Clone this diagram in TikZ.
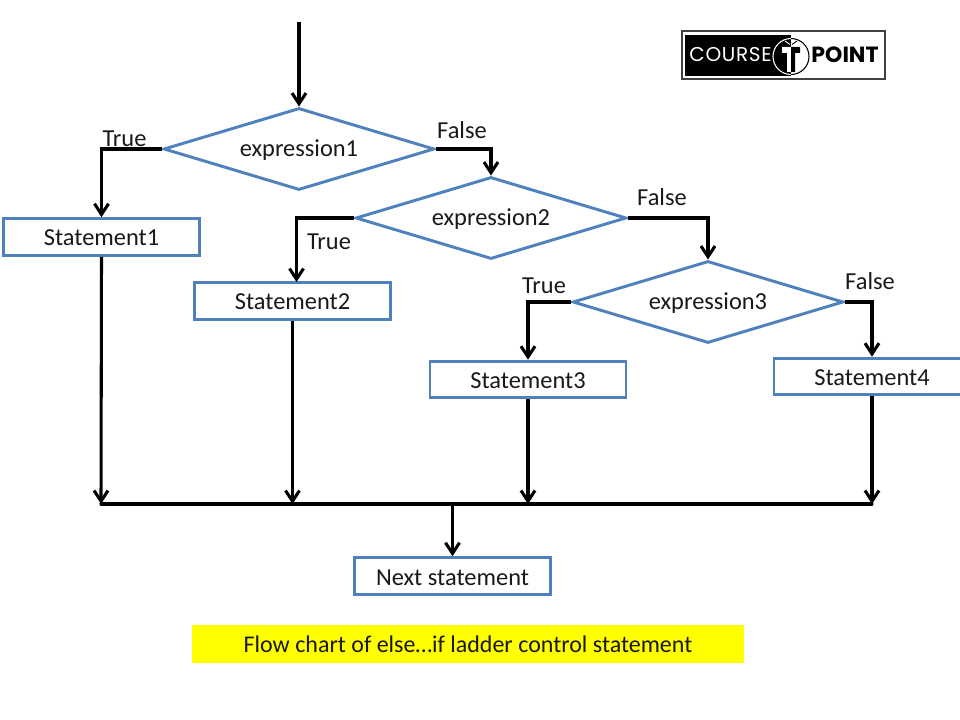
\documentclass[tikz,border=0pt]{standalone}
\usepackage{fontspec}
\setmainfont{Carlito}
\newfontfamily\logofont{Poppins}
\usetikzlibrary{shapes.geometric,arrows.meta}
\definecolor{boxblue}{RGB}{79,129,189}
\definecolor{barsel}{RGB}{255,255,0}
\newcommand{\bodyfont}{\fontsize{18.3}{22}\selectfont}
\tikzset{
  flowbox/.style={draw=boxblue,line width=2.2pt,fill=white,minimum width=147pt,minimum height=27.5pt,inner sep=0pt,font=\bodyfont,text=black!90,text height=13.5pt,text depth=0pt},
  decision/.style={diamond,draw=boxblue,line width=2.2pt,fill=white,minimum width=203pt,minimum height=61.5pt,shape aspect=3.3,inner sep=0pt,font=\bodyfont,text=black!90,text height=14pt,text depth=3pt},
  link/.style={draw=black,line width=2.3pt},
  flow/.style={link,-{Straight Barb[length=8pt,width=10.5pt,line width=2.3pt]}},
  lbl/.style={font=\bodyfont,text=black!90,inner sep=0pt}
}
\begin{document}
\begin{tikzpicture}[x=0.75pt,y=-0.75pt]
\useasboundingbox (0,0) rectangle (960,720);
\fill[white] (0,0) rectangle (960,720);
% nodes
\node[decision] (d1) at (299,149) {expression1};
\node[decision] (d2) at (491,218) {expression2};
\node[decision] (d3) at (708,302) {expression3};
\node[flowbox] (s1) at (101.5,237) {Statement1};
\node[flowbox] (s2) at (292.5,301) {Statement2};
\node[flowbox] (s3) at (528,379.5) {Statement3};
\node[flowbox] (s4) at (872,376.5) {Statement4};
\node[flowbox] (next) at (452.5,576) {Next statement};
\node[fill=barsel,minimum width=414pt,minimum height=28.5pt,inner sep=0pt,font=\fontsize{18}{22}\selectfont,text=black!90] (cap) at (468,644) {Flow chart of else\ldots if ladder control statement};
% labels
\node[lbl] (t1) at (124.5,139) {True};
\node[lbl] (f1) at (462,130) {False};
\node[lbl] (t2) at (329,242) {True};
\node[lbl] (f2) at (662,197) {False};
\node[lbl] (t3) at (544,286) {True};
\node[lbl] (f3) at (870,281) {False};
% free points
\coordinate (start) at (299,22);
\coordinate (busl) at (101,504);
\coordinate (busr) at (872,504);
\coordinate (b1) at (101,504);
\coordinate (b2) at (292.5,504);
\coordinate (b3) at (528,504);
\coordinate (b4) at (872,504);
\coordinate (bn) at (452.5,504);
\coordinate (s2in) at (296.5,282);
% connectors
\draw[flow] (start) -- (d1.north);
\draw[flow] (d1.west) -| (s1.north);
\draw[flow] (d1.east) -| (d2.north);
\draw[flow] (d2.west) -| (s2in);
\draw[flow] (d2.east) -| (d3.north);
\draw[flow] (d3.west) -| (s3.north);
\draw[flow] (d3.east) -| (s4.north);
\draw[flow] (s1.south) -- (b1);
\draw[flow] (s2.south) -- (b2);
\draw[flow] (s3.south) -- (b3);
\draw[flow] (s4.south) -- (b4);
\draw[link,line cap=round] (busl) -- (busr);
\draw[flow] (bn) -- (next.north);
% logo
\draw[black!75,line width=1.2pt,fill=white] (682,31) rectangle (885,79);
\fill[black] (685,35) rectangle (791,76);
\node[text=white,inner sep=0pt,font=\logofont\fontsize{15}{16}\selectfont] (logoa) at (730.5,54.5) {C\kern0.5pt O\kern0.5pt U\kern0.5pt R\kern0.5pt S\kern0.5pt E};
\node[text=black,inner sep=0pt,font=\logofont\bfseries\fontsize{16.5}{18}\selectfont] (logob) at (845,55) {POINT};
\begin{scope}
\clip (760,30) rectangle (791,80);
\draw[white,line width=0.8pt] (791,56.5) circle (18);
\end{scope}
\begin{scope}
\clip (791,30) rectangle (820,80);
\draw[black,line width=0.8pt] (791,56.5) circle (18);
\end{scope}
\fill[white] (782,47) -- (791,47) -- (791,72) -- (787,72) -- (787,53) -- (782,53) -- cycle;
\fill[black] (791,47) -- (800,47) -- (800,53) -- (795,53) -- (795,72) -- (791,72) -- cycle;
\draw[white,line width=0.7pt] (785,41) -- (790,44.5);
\draw[black,line width=0.7pt] (792,44.5) -- (797,41);
\end{tikzpicture}
\end{document}
